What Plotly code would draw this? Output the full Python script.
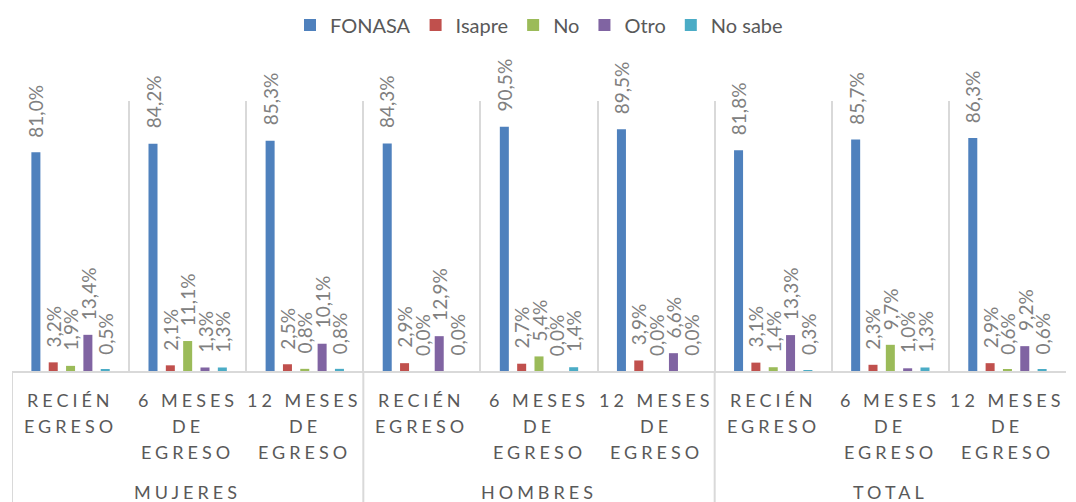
import plotly.graph_objects as go

group_names = ["MUJERES", "HOMBRES", "TOTAL"]
period_names = ["RECIÉN\nEGRESO", "6 MESES\nDE\nEGRESO", "12 MESES\nDE\nEGRESO"]
categories = [(g, p) for g in group_names for p in period_names]

series_names = ["FONASA", "Isapre", "No", "Otro", "No sabe"]
fonasa = [81.0, 84.2, 85.3, 84.3, 90.5, 89.5, 81.8, 85.7, 86.3]
isapre = [3.2, 2.1, 2.5, 2.9, 2.7, 3.9, 3.1, 2.3, 2.9]
no = [1.9, 11.1, 0.8, 0.0, 5.4, 0.0, 1.4, 9.7, 0.6]
otro = [13.4, 1.3, 10.1, 12.9, 0.0, 6.6, 13.3, 1.0, 9.2]
no_sabe = [0.5, 1.3, 0.8, 0.0, 1.4, 0.0, 0.3, 1.3, 0.6]
colors = ["#4F81BD", "#C0504D", "#9BBB59", "#8064A2", "#4BACC6"]

values = [fonasa, isapre, no, otro, no_sabe]
FONT = "Lato"
GRID = "#d9d9d9"
LABEL = "#595959"
BARGAP, GROUPGAP = 0.26, 0.48
PLOT_H = 270
BOTTOM = 131

x_idx = list(range(len(categories)))

fig = go.Figure()
for name, vals, col in zip(series_names, values, colors):
    fig.add_trace(go.Bar(
        name=name, x=x_idx, y=vals,
        marker=dict(color=col, line=dict(width=0)),
        hoverinfo="name+y",
    ))

# data labels, centred over each bar of the group
n = len(series_names)
slot = (1 - BARGAP) / n
annotations = []
for j, vals in enumerate(values):
    off = -(1 - BARGAP) / 2 + slot * (j + 0.5)
    for i, v in zip(x_idx, vals):
        annotations.append(dict(
            x=i + off, y=v, xref="x", yref="y",
            text=f"{v:.1f}".replace(".", ",") + "%",
            textangle=-90, showarrow=False,
            xanchor="center", yanchor="bottom", yshift=13,
            font=dict(family=FONT, size=19, color="#808080"),
        ))

# category labels (one annotation per text line)
for i, (g, p) in zip(x_idx, categories):
    for k, line in enumerate(p.split("\n")):
        annotations.append(dict(
            x=i, y=0, xref="x", yref="paper", yshift=-(29 + 26.2 * k),
            text=line, showarrow=False, xanchor="center", yanchor="middle",
            font=dict(family=FONT, size=18, color=LABEL),
        ))
# group labels
for gi, g in enumerate(group_names):
    idx = [i for i, c in zip(x_idx, categories) if c[0] == g]
    annotations.append(dict(
        x=sum(idx) / len(idx), y=0, xref="x", yref="paper", yshift=-121,
        text=g, showarrow=False, xanchor="center", yanchor="middle",
        font=dict(family=FONT, size=18, color=LABEL),
    ))

# group dividers extending through the label area
shapes = []
for gi, g in enumerate(group_names):
    idx = [i for i, c in zip(x_idx, categories) if c[0] == g]
    xb = min(idx) - 0.5
    shapes.append(dict(type="line", xref="x", yref="paper", x0=xb, x1=xb,
                       y0=0, y1=-BOTTOM / PLOT_H, line=dict(color=GRID, width=2)))

boundaries = [i - 0.5 for i in x_idx]

fig.update_layout(
    width=1076, height=502,
    margin=dict(l=12, r=10, t=101, b=BOTTOM, autoexpand=False),
    paper_bgcolor="white", plot_bgcolor="white",
    barmode="group", bargap=BARGAP, bargroupgap=GROUPGAP,
    font=dict(family=FONT, color=LABEL),
    showlegend=True,
    legend=dict(orientation="h", x=0.5, xanchor="center", y=1 + 76 / PLOT_H, yanchor="middle",
                font=dict(family=FONT, size=20, color=LABEL), itemwidth=30),
    xaxis=dict(
        range=[-0.5, len(categories) - 0.5],
        tickmode="array", tickvals=boundaries, showticklabels=False, ticks="",
        showgrid=True, gridcolor=GRID, gridwidth=2,
        showline=True, linecolor=GRID, linewidth=2, zeroline=False,
    ),
    yaxis=dict(range=[0, 100], visible=False, showgrid=False, zeroline=False),
    annotations=annotations,
    shapes=shapes,
)

post = """
document.body.style.margin = '0';
document.body.style.overflow = 'hidden';
var gd = document.getElementById('{plot_id}');
function spacing(){
  gd.querySelectorAll('text.annotation-text').forEach(function(t){
    if (t.textContent.indexOf('%') < 0) { t.style.letterSpacing = '4px'; }
  });
}
spacing();
gd.on('plotly_afterplot', spacing);
"""
fig.write_html("out.html", post_script=post, config={"displayModeBar": False})
